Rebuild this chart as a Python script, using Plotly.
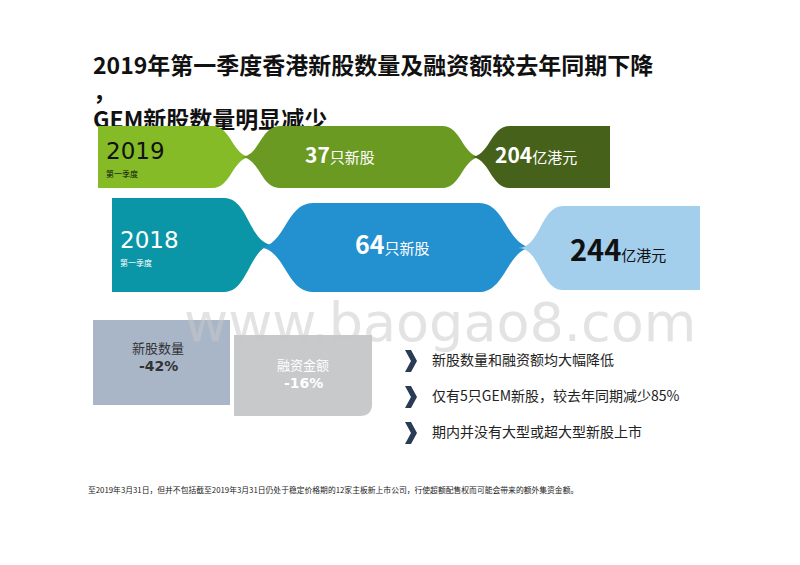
import plotly.graph_objects as go

years = ["2019", "2018"]
quarter = "第一季度"
ipo_counts = [37, 64]
amounts = [204, 244]
changes = [("新股数量", "-42%"), ("融资金额", "-16%")]
bullets = ["新股数量和融资额均大幅降低",
           "仅有5只GEM新股，较去年同期减少85%",
           "期内并没有大型或超大型新股上市"]
title_lines = ["2019年第一季度香港新股数量及融资额较去年同期下降", "，", "GEM新股数量明显减少"]
footnote = "至2019年3月31日，但并不包括截至2019年3月31日仍处于稳定价格期的12家主板新上市公司，行使超额配售权而可能会带来的额外集资金额。"

FONT = "Noto Sans CJK SC"
fig = go.Figure()

# title drawn as a trace so the ribbons can sit on top of it
fig.add_trace(go.Scatter(x=[93, 93, 93], y=[68, 94, 122], mode="text",
                         text=[f"<b>{t}</b>" for t in title_lines],
                         textposition="middle right", hoverinfo="skip",
                         textfont=dict(family=FONT, size=23, color="#111")))


def ribbon(x0, x1, y0, y1, left_pinch, right_pinch, color, w=35):
    ym = (y0 + y1) / 2
    p = ""
    if left_pinch:
        p += f"M{x0},{ym} C{x0+w*0.5},{ym} {x0+w*0.5},{y0} {x0+w},{y0} "
    else:
        p += f"M{x0},{y1} L{x0},{y0} "
    if right_pinch:
        p += f"L{x1-w},{y0} C{x1-w*0.5},{y0} {x1-w*0.5},{ym} {x1},{ym} "
        p += f"C{x1-w*0.5},{ym} {x1-w*0.5},{y1} {x1-w},{y1} "
    else:
        p += f"L{x1},{y0} L{x1},{y1} "
    if left_pinch:
        p += f"L{x0+w},{y1} C{x0+w*0.5},{y1} {x0+w*0.5},{ym} {x0},{ym} Z"
    else:
        p += "Z"
    return dict(type="path", path=p, fillcolor=color, line_width=0, layer="above",
                xref="x", yref="y")


shapes = [
    ribbon(98, 252, 126, 188, False, True, "#84bb26", 40),
    ribbon(240, 482, 126, 188, True, True, "#6a9a22", 40),
    ribbon(470, 610, 126, 188, True, False, "#46621a", 40),
    ribbon(112, 274, 198, 292, False, True, "#0a96a6", 50),
    ribbon(258, 534, 203, 292, True, True, "#2390d0", 55),
    ribbon(518, 700, 206, 290, True, False, "#a3cfec", 45),
    dict(type="rect", x0=93, x1=230, y0=320, y1=405, fillcolor="#a9b6c8", line_width=0, layer="above"),
    dict(type="path", path="M234,335 L372,335 L372,404 Q372,416 360,416 L234,416 Z",
         fillcolor="#c8c9cb", line_width=0, layer="above"),
]
for i in range(len(bullets)):
    y = 361 + i * 36
    shapes.append(dict(type="path", path=f"M405,{y-11} L411,{y-11} L417,{y} L411,{y+11} L405,{y+11} L411,{y} Z",
                       fillcolor="#2a3b55", line_width=0, layer="above"))

ann = []
row_y = [154, 243]
row_x = [104, 118]
txt_col = [["#111", "white", "white"], ["white", "white", "#111"]]
cnt_x = [340, 392]
amt_x = [536, 618]
for i, yr in enumerate(years):
    ann.append(dict(x=row_x[i], y=row_y[i] - 3, text=yr, xanchor="left", yanchor="middle", showarrow=False,
                    font=dict(family="DejaVu Sans", size=23, color=txt_col[i][0])))
    ann.append(dict(x=row_x[i], y=row_y[i] + 19, text=quarter, xanchor="left", yanchor="middle", showarrow=False,
                    font=dict(family=FONT, size=8, color=txt_col[i][0])))
    ann.append(dict(x=cnt_x[i], y=row_y[i], showarrow=False, xanchor="center", yanchor="middle",
                    text=f"<b><span style='font-size:{21 if i == 0 else 25}px'>{ipo_counts[i]}</span></b>只新股",
                    font=dict(family=FONT, size=15, color=txt_col[i][1])))
    ann.append(dict(x=amt_x[i], y=row_y[i] + (0 if i == 0 else 5), showarrow=False, xanchor="center", yanchor="middle",
                    text=f"<b><span style='font-size:{21 if i == 0 else 29}px'>{amounts[i]}</span></b>亿港元",
                    font=dict(family=FONT, size=15, color=txt_col[i][2])))

box_cx = [158, 303]
box_cy = [357, 374]
box_col = ["#333", "white"]
for i, (lab, val) in enumerate(changes):
    ann.append(dict(x=box_cx[i], y=box_cy[i] - 10, text=lab, showarrow=False,
                    font=dict(family=FONT, size=13, color=box_col[i])))
    ann.append(dict(x=box_cx[i], y=box_cy[i] + 9, text=f"<b>{val}</b>", showarrow=False,
                    font=dict(family="DejaVu Sans", size=14, color=box_col[i])))

for i, b in enumerate(bullets):
    ann.append(dict(x=430, y=359 + i * 36, text=b, xanchor="left", showarrow=False,
                    font=dict(family=FONT, size=14, color="#222")))

ann.append(dict(x=440, y=322, text="www.baogao8.com", showarrow=False,
                font=dict(family="DejaVu Sans", size=54, color="rgba(200,200,200,0.5)")))
ann.append(dict(x=86, y=489, text=footnote, xanchor="left", showarrow=False,
                font=dict(family=FONT, size=7.8, color="#222")))

fig.update_layout(
    width=800, height=565, margin=dict(l=0, r=0, t=0, b=0),
    plot_bgcolor="white", paper_bgcolor="white", showlegend=False,
    xaxis=dict(range=[8, 808], visible=False, fixedrange=True),
    yaxis=dict(range=[573, 8], visible=False, fixedrange=True),
    shapes=shapes, annotations=ann,
)
fig.write_html("out.html")
